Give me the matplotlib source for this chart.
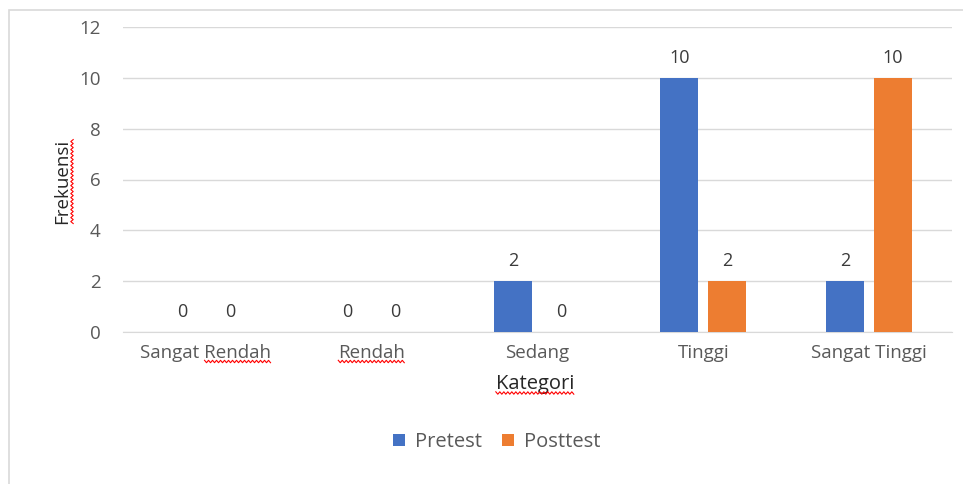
import matplotlib
matplotlib.use("Agg")
import matplotlib.pyplot as plt
import numpy as np
from matplotlib.patches import Rectangle
from matplotlib.lines import Line2D

categories = ["Sangat Rendah", "Rendah", "Sedang", "Tinggi", "Sangat Tinggi"]
pretest = [0, 0, 2, 10, 2]
posttest = [0, 0, 0, 2, 10]
series_names = ["Pretest", "Posttest"]
colors = ["#4472C4", "#ED7D31"]
yticks = [0, 2, 4, 6, 8, 10, 12]

plt.rcParams['font.family'] = ['Open Sans', 'DejaVu Sans']
W, H = 963, 484
fig = plt.figure(figsize=(W / 100, H / 100), dpi=100)
ax = fig.add_axes([123 / W, 1 - 332 / H, (952 - 123) / W, (332 - 27) / H])

x = np.arange(len(categories))
bw = 0.229
off = 0.145
b1 = ax.bar(x - off, pretest, bw, color=colors[0], label=series_names[0], zorder=3)
b2 = ax.bar(x + off, posttest, bw, color=colors[1], label=series_names[1], zorder=3)

for bars, vals in ((b1, pretest), (b2, posttest)):
    for r, v in zip(bars, vals):
        ax.annotate(str(v), (r.get_x() + r.get_width() / 2, v), xytext=(0, 8),
                    textcoords="offset points", ha="center", va="bottom",
                    fontsize=13, color="#3A3A3A", fontweight="medium")

ax.set_xlim(-0.5, len(categories) - 0.5)
ax.set_ylim(0, 12)
ax.set_yticks(yticks)
ax.set_xticks(x)
ax.set_xticklabels(categories)
ax.tick_params(axis="both", length=0, labelsize=13.5, labelcolor="#595959")
ax.tick_params(axis="y", pad=16)
ax.tick_params(axis="x", pad=9)
ax.grid(axis="y", color="#D9D9D9", linewidth=1, zorder=0)
for s in ax.spines.values():
    s.set_visible(False)
ax.spines["bottom"].set_visible(True)
ax.spines["bottom"].set_color("#D9D9D9")

ax.set_ylabel("Frekuensi", fontsize=13.5, color="#262626")
ax.set_xlabel("Kategori", fontsize=14.5, color="#262626")
ax.yaxis.set_label_coords((71 - 123) / (952 - 123), (332 - 181) / (332 - 27))
ax.xaxis.set_label_coords((535 - 123) / (952 - 123), -(374 - 332) / (332 - 27))

leg = fig.legend(handles=[b1, b2], labels=series_names, loc="center",
                 bbox_to_anchor=(497 / W, 1 - 442 / H), ncol=2, frameon=False,
                 fontsize=14.5, handlelength=0.6, handleheight=0.6,
                 columnspacing=1.0, handletextpad=0.5)
for t in leg.get_texts():
    t.set_color("#595959")

# chart border
fig.patches.append(Rectangle((9 / W, -0.1), 1.2, 1 - 10 / H + 0.1, transform=fig.transFigure,
                             fill=False, edgecolor="#D9D9D9", linewidth=1.2))

# spell-check wavy underlines
fig.canvas.draw()
r = fig.canvas.get_renderer()

def wavy_h(x0, x1, y):
    xs = np.arange(x0, x1 + 0.1, 2.0)
    ys = y + np.where(np.arange(len(xs)) % 2 == 0, 1.2, -1.2)
    fig.lines.append(Line2D(xs / W, ys / H, transform=fig.transFigure, color="red", lw=0.8))

def wavy_v(y0, y1, xpos):
    ys = np.arange(y0, y1 + 0.1, 2.0)
    xs = xpos + np.where(np.arange(len(ys)) % 2 == 0, 1.2, -1.2)
    fig.lines.append(Line2D(xs / W, ys / H, transform=fig.transFigure, color="red", lw=0.8))

labels = ax.get_xticklabels()
for lab in labels:
    txt = lab.get_text()
    if "Rendah" in txt:
        bb = lab.get_window_extent(r)
        if txt == "Rendah":
            wavy_h(bb.x0, bb.x1, bb.y0 + 1)
        else:
            tmp = fig.text(0, 0, "Rendah", fontsize=13.5)
            w = tmp.get_window_extent(r).width
            tmp.remove()
            wavy_h(bb.x1 - w, bb.x1, bb.y0 + 1)
bb = ax.xaxis.label.get_window_extent(r)
wavy_h(bb.x0, bb.x1, bb.y0 + 1)
bb = ax.yaxis.label.get_window_extent(r)
wavy_v(bb.y0, bb.y1, bb.x1 + 1)

fig.savefig("out.png", dpi=100)
